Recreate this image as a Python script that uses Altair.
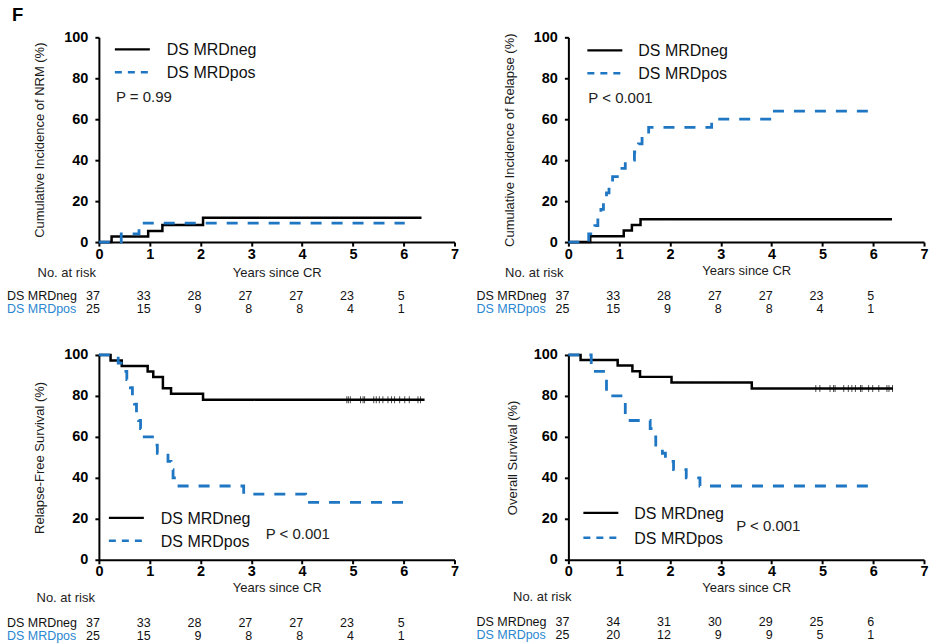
import altair as alt
import pandas as pd

FONT = "Liberation Sans"
BLUE = "#1f77c4"
TEXT_BLUE = "#2a86cf"
GROUPS = ["DS MRDneg", "DS MRDpos"]
AXIS_YEARS = [0, 1, 2, 3, 4, 5, 6, 7]
AXIS_PCT = [0, 20, 40, 60, 80, 100]
RISK_YEARS = [0, 1, 2, 3, 4, 5, 6]

# ---- Cumulative incidence of NRM ----
nrm_neg_t = [0, 0.25, 0.97, 1.25, 2.05, 6.35]
nrm_neg_v = [0, 2.7, 5.4, 8.4, 11.9, 11.9]
nrm_pos_t = [0, 0.44, 0.79, 6.02]
nrm_pos_v = [0, 4.0, 9.3, 9.3]

# ---- Cumulative incidence of relapse ----
rel_neg_t = [0, 0.43, 1.09, 1.25, 1.42, 6.37]
rel_neg_v = [0, 2.8, 5.6, 8.4, 11.2, 11.2]
rel_pos_t = [0, 0.40, 0.52, 0.58, 0.64, 0.69, 0.75, 0.80, 0.87, 1.02, 1.12,
             1.30, 1.38, 1.45, 1.58, 2.82, 4.02, 6.0]
rel_pos_v = [0, 4, 8, 12, 16, 20, 24, 28, 32, 36, 40, 44, 48, 52, 56, 60, 64, 64]

# ---- Relapse-free survival ----
rfs_neg_t = [0, 0.23, 0.45, 0.96, 1.07, 1.26, 1.42, 2.05, 6.41]
rfs_neg_v = [100, 97.3, 94.6, 91.9, 89.2, 83.8, 81.1, 78.1, 78.1]
rfs_pos_t = [0, 0.38, 0.48, 0.55, 0.62, 0.66, 0.70, 0.74, 0.78, 0.82, 0.86,
             1.10, 1.15, 1.36, 1.42, 1.46, 1.52, 2.85, 4.07, 6.04]
rfs_pos_v = [100, 96, 92, 88, 84, 80, 76, 72, 68, 64, 60, 56, 52, 48, 44, 40,
             36, 32, 28, 28]
rfs_cens_t = [4.88, 4.91, 4.95, 5.15, 5.20, 5.23, 5.41, 5.46, 5.52, 5.59,
              5.69, 5.76, 5.82, 5.92, 6.02, 6.11, 6.28, 6.33]

# ---- Overall survival ----
os_neg_t = [0, 0.24, 0.97, 1.26, 1.41, 2.03, 3.61, 6.39]
os_neg_v = [100, 97.6, 94.9, 92.1, 89.3, 86.5, 83.6, 83.6]
os_pos_t = [0, 0.45, 0.75, 1.12, 1.61, 1.68, 1.72, 1.85, 1.91, 2.07, 2.32,
            2.59, 5.97]
os_pos_v = [100, 92, 80, 68, 64, 60, 56, 52, 48, 44, 40, 36, 36]
os_cens_t = [4.87, 4.95, 5.15, 5.22, 5.25, 5.42, 5.51, 5.58, 5.65, 5.75,
             5.78, 5.91, 5.99, 6.11, 6.27, 6.31, 6.38]

# ---- Numbers at risk ----
risk_neg_a = [37, 33, 28, 27, 27, 23, 5]
risk_pos_a = [25, 15, 9, 8, 8, 4, 1]
risk_neg_os = [37, 34, 31, 30, 29, 25, 6]
risk_pos_os = [25, 20, 12, 9, 9, 5, 1]

W, H = 356, 205
RISK_FS = 12.5


def xenc(title_pad):
    return alt.X("t:Q", scale=alt.Scale(domain=[0, 7], nice=False, zero=False),
                 axis=alt.Axis(values=AXIS_YEARS, title="Years since CR", format="d",
                               labelFlush=False, labelPadding=1,
                               titlePadding=title_pad))


def yenc(title, title_pad):
    return alt.Y("v:Q", scale=alt.Scale(domain=[0, 100], nice=False),
                 axis=alt.Axis(values=AXIS_PCT, title=title, labelPadding=7,
                               titlePadding=title_pad))


def one(**kw):
    return pd.DataFrame({k: [v] for k, v in kw.items()})


def txt(s, x, y, size, color="black", align="left", weight="normal"):
    return alt.Chart(one(s=s)).mark_text(
        align=align, baseline="middle", font=FONT, fontSize=size,
        color=color, fontWeight=weight
    ).encode(x=alt.value(x), y=alt.value(y), text="s:N")


def hrule(x1, x2, y, color, dash, width):
    return alt.Chart(one(a=0)).mark_rule(
        color=color, strokeDash=dash, strokeWidth=width
    ).encode(x=alt.value(x1), x2=alt.value(x2), y=alt.value(y))


def panel(neg_t, neg_v, pos_t, pos_v, cens_t, cens_level, ytitle,
          risk_neg, risk_pos, p_text, L, label_f=False):
    X = xenc(L["xtp"])
    Y = yenc(ytitle, L["ytp"])
    df = pd.concat([
        pd.DataFrame({"t": neg_t, "v": neg_v, "g": GROUPS[0]}),
        pd.DataFrame({"t": pos_t, "v": pos_v, "g": GROUPS[1]}),
    ])
    lines = alt.Chart(df).mark_line(interpolate="step-after").encode(
        x=X, y=Y,
        color=alt.Color("g:N", scale=alt.Scale(domain=GROUPS, range=["black", BLUE]),
                        legend=None),
        strokeDash=alt.StrokeDash("g:N", scale=alt.Scale(domain=GROUPS,
                                                         range=[[1, 0], [11, 10]]),
                                  legend=None),
        strokeWidth=alt.StrokeWidth("g:N", scale=alt.Scale(domain=GROUPS,
                                                           range=[2.5, 2.8]),
                                    legend=None),
    )
    layers = [lines]
    if cens_t:
        cdf = pd.DataFrame({"t": cens_t, "v": [cens_level] * len(cens_t)})
        layers.append(alt.Chart(cdf).mark_tick(orient="vertical", size=7,
                                               thickness=1, color="black")
                      .encode(x=X, y=Y))
    # legend
    lx1, lx2, ly1, ly2, ltx = L["leg"]
    layers += [
        hrule(lx1, lx2, ly1, "black", [1, 0], 2.3),
        hrule(lx1, lx2, ly2, BLUE, [7, 6], 2.5),
        txt("DS MRDneg", ltx, ly1 + 1, 16, "#111"),
        txt("DS MRDpos", ltx, ly2 + 1, 16, "#111"),
        txt(p_text, L["p"][0], L["p"][1], 15, "#222"),
    ]
    # risk table
    r1, r2 = L["rows"]
    layers += [
        txt("No. at risk", L["nar"][0], L["nar"][1], 13, "#222", align="right"),
        txt("DS MRDneg", -92, r1, RISK_FS, "#111"),
        txt("DS MRDpos", -92, r2, RISK_FS, TEXT_BLUE),
    ]
    for vals, ry in ((risk_neg, r1), (risk_pos, r2)):
        rdf = pd.DataFrame({"t": RISK_YEARS, "n": [str(v) for v in vals]})
        layers.append(alt.Chart(rdf).mark_text(
            align="right", baseline="middle", dx=1, font=FONT, fontSize=RISK_FS,
            color="#111").encode(x=X, y=alt.value(ry), text="n:N"))
    if label_f:
        layers.append(txt("F", -87, -22, 18.5, "black", weight="bold"))
    return alt.layer(*layers).properties(width=W, height=H)


top_l = panel(nrm_neg_t, nrm_neg_v, nrm_pos_t, nrm_pos_v, [], 0,
              "Cumulative Incidence of NRM (%)", risk_neg_a, risk_pos_a, "P = 0.99",
              dict(xtp=6, ytp=17, leg=(16, 51, 12, 35, 68), p=(17, 60),
                   nar=(-3, 236), rows=(259, 272)), label_f=True)
top_r = panel(rel_neg_t, rel_neg_v, rel_pos_t, rel_pos_v, [], 0,
              "Cumulative Incidence of Relapse (%)", risk_neg_a, risk_pos_a,
              "P < 0.001",
              dict(xtp=4, ytp=17, leg=(19, 54, 13, 36, 70), p=(20, 61),
                   nar=(-5, 236), rows=(259, 272)))
bot_l = panel(rfs_neg_t, rfs_neg_v, rfs_pos_t, rfs_pos_v, rfs_cens_t, 78.1,
              "Relapse-Free Survival (%)", risk_neg_a, risk_pos_a, "P < 0.001",
              dict(xtp=3, ytp=17, leg=(10, 45, 163, 186, 62), p=(167, 179),
                   nar=(-4, 243), rows=(268, 281)))
bot_r = panel(os_neg_t, os_neg_v, os_pos_t, os_pos_v, os_cens_t, 83.6,
              "Overall Survival (%)", risk_neg_os, risk_pos_os, "P < 0.001",
              dict(xtp=3, ytp=14, leg=(15, 50, 158, 183, 66), p=(168, 171),
                   nar=(3, 242), rows=(267, 280)))

chart = alt.concat(
    top_l, top_r, bot_l, bot_r, columns=2, bounds="flush",
    spacing={"row": 113, "column": 114}
).resolve_scale(
    x="independent", y="independent"
).properties(
    padding={"left": 7, "top": 6, "right": 0, "bottom": 0}
).configure_view(stroke=None).configure_axis(
    grid=False, domainColor="black", domainWidth=2, tickColor="black",
    tickWidth=2, tickSize=4, labelFont=FONT, labelFontSize=14.5,
    labelFontWeight="bold", labelColor="black", titleFont=FONT,
    titleFontSize=13, titleFontWeight="normal", titleColor="#1a1a1a"
)

chart.save("out.html", embed_options={"renderer": "svg", "actions": False})
